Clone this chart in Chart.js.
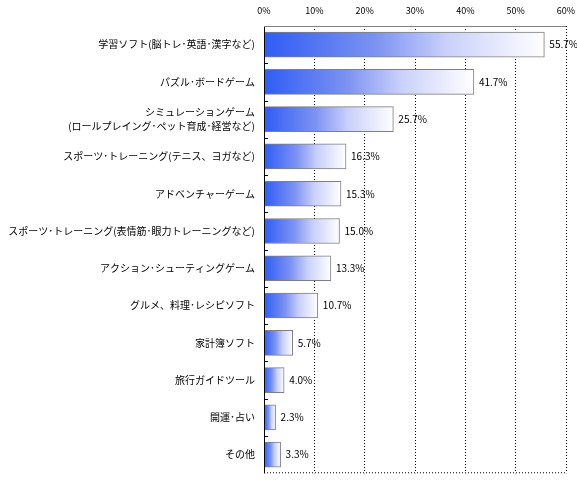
<!DOCTYPE html>
<html>
<head>
<meta charset="utf-8">
<script src="https://cdn.jsdelivr.net/npm/chart.js@4"></script>
<style>
    html, body { margin: 0; padding: 0; background: #ffffff; }
    #wrap { width: 577px; height: 489px; }
</style>
</head>
<body>
<div id="wrap"><canvas id="chart" width="577" height="489"></canvas></div>
<script>
// Data
const categories = [
    '学習ソフト(脳トレ･英語･漢字など)',
    'パズル･ボードゲーム',
    ['シミュレーションゲーム', '(ロールプレイング･ペット育成･経営など)'],
    'スポーツ･トレーニング(テニス、ヨガなど)',
    'アドベンチャーゲーム',
    'スポーツ･トレーニング(表情筋･眼力トレーニングなど)',
    'アクション･シューティングゲーム',
    'グルメ、料理･レシピソフト',
    '家計簿ソフト',
    '旅行ガイドツール',
    '開運･占い',
    'その他'
];
const shares = [55.7, 41.7, 25.7, 16.3, 15.3, 15.0, 13.3, 10.7, 5.7, 4.0, 2.3, 3.3];
const xTicks = [0, 10, 20, 30, 40, 50, 60];

const FONT = '"Noto Sans CJK JP", "DejaVu Sans", sans-serif';

// Gradient from blue on the left to white at the bar end
function barGradient(context) {
    const chart = context.chart;
    const xScale = chart.scales.x;
    if (!chart.chartArea || !xScale || context.dataIndex === undefined) {
        return '#6a86f4';
    }
    const value = context.dataset.data[context.dataIndex];
    const x0 = xScale.getPixelForValue(0);
    const x1 = xScale.getPixelForValue(value);
    const g = chart.ctx.createLinearGradient(x0, 0, x1, 0);
    g.addColorStop(0, '#2f5cf5');
    g.addColorStop(0.4, '#7d93f2');
    g.addColorStop(0.65, '#c9d0fb');
    g.addColorStop(1, '#ffffff');
    return g;
}

// Value labels at the end of each bar
const valueLabels = {
    id: 'valueLabels',
    afterDatasetsDraw(chart) {
        const ctx = chart.ctx;
        const meta = chart.getDatasetMeta(0);
        ctx.save();
        ctx.font = '10px ' + FONT;
        ctx.fillStyle = '#000000';
        ctx.textAlign = 'left';
        ctx.textBaseline = 'middle';
        meta.data.forEach((bar, i) => {
            ctx.fillText(shares[i].toFixed(1) + '%', bar.x + 5, bar.y);
        });
        ctx.restore();
    }
};

// Solid frame on top and left, dotted bottom, small ticks between rows
const frame = {
    id: 'frame',
    afterDraw(chart) {
        const a = chart.chartArea;
        const ctx = chart.ctx;
        const yScale = chart.scales.y;
        ctx.save();
        ctx.lineWidth = 1;
        ctx.strokeStyle = '#000000';
        ctx.beginPath();
        ctx.moveTo(a.left + 0.5, a.top);
        ctx.lineTo(a.left + 0.5, a.bottom);
        for (let i = 1; i < categories.length; i++) {
            const y = Math.round(yScale.getPixelForValue(i - 0.5)) + 0.5;
            ctx.moveTo(a.left, y);
            ctx.lineTo(a.left + 4, y);
        }
        ctx.stroke();
        ctx.strokeStyle = '#808080';
        ctx.beginPath();
        ctx.moveTo(a.left, a.top + 0.5);
        ctx.lineTo(a.right, a.top + 0.5);
        ctx.stroke();
        ctx.strokeStyle = '#000000';
        ctx.setLineDash([1, 2]);
        ctx.beginPath();
        ctx.moveTo(a.left, a.bottom - 0.5);
        ctx.lineTo(a.right, a.bottom - 0.5);
        ctx.stroke();
        ctx.restore();
    }
};

new Chart(document.getElementById('chart'), {
    type: 'bar',
    data: {
        labels: categories,
        datasets: [{
            data: shares,
            backgroundColor: barGradient,
            borderColor: '#7f7f7f',
            borderWidth: 1,
            borderSkipped: false,
            barThickness: 25
        }]
    },
    options: {
        indexAxis: 'y',
        responsive: false,
        animation: false,
        layout: { padding: { top: 0, right: 11, bottom: 5, left: 0 } },
        plugins: {
            legend: { display: false },
            tooltip: { enabled: false }
        },
        scales: {
            x: {
                position: 'top',
                min: 0,
                max: 60,
                afterBuildTicks: scale => {
                    scale.ticks = xTicks.map(v => ({ value: v }));
                },
                afterFit: scale => {
                    scale.height = 26;
                    scale.paddingLeft = 0;
                    scale.paddingRight = 0;
                },
                ticks: {
                    color: '#000000',
                    font: { family: FONT, size: 9 },
                    padding: 10,
                    callback: value => value + '%'
                },
                grid: {
                    color: '#000000',
                    drawTicks: false
                },
                border: { display: false, dash: [1, 2] }
            },
            y: {
                afterFit: scale => { scale.width = 264; },
                ticks: {
                    color: '#000000',
                    font: { family: FONT, size: 10, lineHeight: 1.35 },
                    padding: 9
                },
                grid: {
                    drawOnChartArea: false,
                    drawTicks: false
                },
                border: { display: false }
            }
        }
    },
    plugins: [valueLabels, frame]
});
</script>
</body>
</html>
